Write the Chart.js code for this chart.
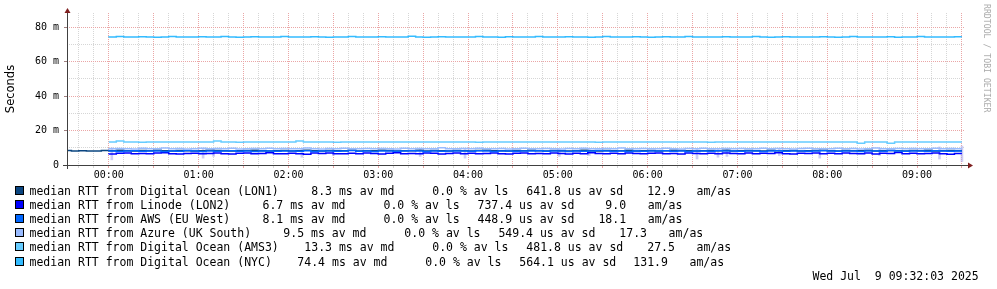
<!DOCTYPE html>
<html>
<head>
<meta charset="utf-8">
<script src="https://cdn.jsdelivr.net/npm/chart.js@4"></script>
<style>
html, body { margin: 0; padding: 0; background: #fff; }
#wrap { position: relative; width: 997px; height: 289px; overflow: hidden; background: #fff; }
#c { position: absolute; left: 0; top: 0; }
.t { position: absolute; font-family: "DejaVu Sans Mono", monospace; font-size: 11.5px; line-height: 14px; white-space: pre; color: #000; }
.box { position: absolute; width: 7px; height: 7px; border: 1px solid #000; }
#vert { position: absolute; left: 992px; top: 4px; font-family: "DejaVu Sans Mono", monospace; font-size: 8.2px; line-height: 10px; color: #aaa; white-space: pre; transform-origin: 0 0; transform: rotate(90deg); }
</style>
</head>
<body>
<div id="wrap">
<canvas id="c" width="997" height="289"></canvas>
<div id="legend"></div>
<div class="t" id="stamp" style="left:812.5px;top:268.5px">Wed Jul  9 09:32:03 2025</div>
<div id="vert">RRDTOOL / TOBI OETIKER</div>
</div>
<script>
// time of each sample (5 min steps)
var times = [
"23:30","23:35","23:40","23:45","23:50","23:55",
"00:00","00:05","00:10","00:15","00:20","00:25","00:30","00:35","00:40","00:45","00:50","00:55",
"01:00","01:05","01:10","01:15","01:20","01:25","01:30","01:35","01:40","01:45","01:50","01:55",
"02:00","02:05","02:10","02:15","02:20","02:25","02:30","02:35","02:40","02:45","02:50","02:55",
"03:00","03:05","03:10","03:15","03:20","03:25","03:30","03:35","03:40","03:45","03:50","03:55",
"04:00","04:05","04:10","04:15","04:20","04:25","04:30","04:35","04:40","04:45","04:50","04:55",
"05:00","05:05","05:10","05:15","05:20","05:25","05:30","05:35","05:40","05:45","05:50","05:55",
"06:00","06:05","06:10","06:15","06:20","06:25","06:30","06:35","06:40","06:45","06:50","06:55",
"07:00","07:05","07:10","07:15","07:20","07:25","07:30","07:35","07:40","07:45","07:50","07:55",
"08:00","08:05","08:10","08:15","08:20","08:25","08:30","08:35","08:40","08:45","08:50","08:55",
"09:00","09:05","09:10","09:15","09:20","09:25","09:30"];

var lon1 = [8.2,8.4,8.2,8.3,8.2,8.2,
8.4,8.3,8.5,8.3,8.2,8.4,8.3,8.6,8.3,8.2,8.4,8.3,
8.2,8.3,8.5,8.4,8.3,8.2,8.3,8.4,8.6,8.3,8.2,8.3,
8.4,8.2,8.3,8.5,8.3,8.2,8.4,8.3,8.3,8.5,8.2,8.3,
8.3,8.6,8.4,8.2,8.3,8.3,8.5,8.2,8.4,8.3,8.2,8.4,
8.3,8.2,8.4,8.5,8.3,8.3,8.2,8.4,8.3,8.6,8.3,8.2,
8.4,8.3,8.2,8.3,8.5,8.3,8.2,8.4,8.3,8.3,8.6,8.2,
8.3,8.4,8.2,8.3,8.5,8.4,8.3,8.2,8.3,8.4,8.3,8.5,
8.2,8.3,8.4,8.3,8.2,8.5,8.3,8.3,8.4,8.2,8.3,8.4,
8.5,8.3,8.2,8.4,8.3,8.3,8.6,8.2,8.3,8.4,8.3,8.2,
8.4,8.3,8.5,8.2,8.3,8.4,8.3];

var lon2 = [null,null,null,null,null,null,
6.3,6.4,6.8,7.0,6.6,6.7,6.5,6.9,7.1,6.6,6.4,6.7,
6.8,6.5,6.7,7.0,6.6,6.4,6.8,6.9,6.5,6.7,7.1,6.6,
6.5,6.8,6.6,6.3,6.9,6.7,7.0,6.6,6.5,6.8,6.6,6.9,
6.7,6.4,6.8,7.1,6.6,6.7,6.5,6.9,6.8,6.4,6.7,7.0,
6.6,6.8,6.5,6.7,7.0,6.6,6.4,6.8,6.9,6.6,6.7,6.5,
6.9,6.7,6.4,6.8,6.6,7.1,6.7,6.5,6.8,6.6,6.9,6.7,
6.5,6.8,7.0,6.6,6.7,6.4,6.9,6.7,6.6,6.8,6.5,7.0,
6.7,6.6,6.9,6.5,6.8,6.7,7.1,6.6,6.4,6.8,6.7,6.9,
6.6,6.8,6.5,7.0,6.7,6.6,6.9,6.4,6.8,6.7,7.2,6.6,
6.8,6.5,6.7,6.9,6.6,6.3,6.7];

var aws = [null,null,null,null,null,null,
8.0,8.2,7.9,8.1,8.3,8.0,8.1,8.2,7.9,8.1,8.0,8.4,
8.1,7.9,8.2,8.0,8.1,8.3,8.0,8.1,7.8,8.2,8.1,8.0,
8.2,8.1,8.0,8.3,7.9,8.1,8.2,8.0,8.1,8.4,8.0,8.1,
7.9,8.1,8.2,8.0,8.1,8.3,8.1,7.9,8.2,8.0,8.1,8.2,
8.1,8.0,8.3,8.1,7.9,8.2,8.1,8.0,8.2,8.1,8.3,8.0,
8.2,8.1,7.9,8.1,8.0,8.2,8.4,8.1,8.0,8.2,7.9,8.1,
8.0,8.2,8.1,8.3,8.0,8.1,7.9,8.2,8.1,8.0,8.3,8.1,
8.1,8.0,8.2,8.1,7.9,8.1,8.3,8.0,8.2,8.1,8.0,8.2,
8.3,8.1,8.0,8.2,8.1,7.9,8.1,8.2,8.0,8.4,8.1,8.0,
8.2,8.1,8.0,8.3,8.1,8.0,8.2];

var azure = [null,null,null,null,null,null,
9.8,9.4,9.6,9.5,9.3,9.7,9.5,9.4,9.9,9.5,9.6,9.3,
9.5,9.7,9.4,9.6,9.5,9.8,9.3,9.5,9.6,9.4,9.7,9.5,
9.6,9.4,9.5,9.9,9.5,9.3,9.6,9.5,9.7,9.4,9.5,9.6,
9.4,9.6,9.5,9.3,9.8,9.5,9.6,9.4,9.5,10.0,9.5,9.4,
9.6,9.5,9.7,9.4,9.5,9.6,9.3,9.5,9.8,9.5,9.4,9.6,
9.5,9.3,9.6,9.5,9.7,9.4,9.5,9.6,9.5,9.9,9.4,9.5,
9.6,9.5,9.4,9.7,9.5,9.3,9.6,9.5,9.8,9.4,9.5,9.6,
9.4,9.6,9.5,9.5,9.8,9.4,9.6,9.5,9.3,9.6,9.7,9.5,
9.5,9.4,9.7,9.5,9.6,9.3,9.5,9.9,9.5,9.4,9.6,9.5,
9.6,9.5,9.4,9.7,9.5,9.6,9.5];

var ams3 = [null,null,null,null,null,null,
13.3,13.3,13.9,13.3,13.3,13.2,13.3,13.3,13.3,13.4,13.3,13.3,
13.3,13.3,13.3,13.9,13.3,13.3,13.2,13.3,13.3,13.3,13.4,13.3,
13.3,13.3,13.9,13.3,13.3,13.3,13.3,13.2,13.3,13.3,13.3,13.3,
13.4,13.3,13.3,13.3,13.3,13.3,13.3,13.4,13.3,13.3,13.3,13.3,
13.3,13.3,13.2,13.3,13.3,13.3,13.4,13.3,13.3,13.3,13.3,13.3,
13.3,13.4,13.3,13.3,13.3,13.3,13.2,13.3,13.3,13.3,13.4,13.3,
13.3,13.3,13.3,13.3,13.4,13.3,13.3,13.3,13.3,13.2,13.3,13.3,
13.3,13.3,13.3,13.4,13.3,13.3,13.3,13.3,13.3,13.3,13.3,13.3,
13.3,13.3,13.3,13.3,13.3,12.7,13.3,13.3,13.3,12.7,13.3,13.3,
13.3,13.3,13.3,13.3,13.3,13.3,13.3];

var nyc = [null,null,null,null,null,null,
74.2,74.4,74.6,74.4,74.3,74.5,74.4,74.2,74.4,74.6,74.4,74.3,
74.4,74.5,74.3,74.4,74.6,74.4,74.2,74.4,74.5,74.4,74.3,74.4,
74.6,74.4,74.4,74.3,74.5,74.4,74.2,74.4,74.4,74.6,74.4,74.3,
74.4,74.5,74.4,74.3,74.4,74.8,74.4,74.2,74.4,74.5,74.4,74.4,
74.3,74.4,74.6,74.4,74.4,74.2,74.5,74.4,74.3,74.4,74.6,74.4,
74.4,74.3,74.5,74.4,74.4,74.2,74.4,74.6,74.4,74.3,74.4,74.5,
74.4,74.2,74.4,74.5,74.4,74.3,74.6,74.4,74.4,74.3,74.4,74.5,
74.4,74.4,74.3,74.6,74.4,74.2,74.4,74.5,74.4,74.4,74.3,74.4,
74.5,74.4,74.2,74.4,74.6,74.4,74.3,74.4,74.4,74.5,74.2,74.4,
74.4,74.6,74.4,74.3,74.4,74.4,74.5];

// smoke spikes (time, low, high)
var smokeTimes = ["00:02","01:03","01:10","02:09","02:30","03:28","03:58","05:01","05:21","06:33","06:47","06:53","07:28","07:55","08:35","09:15","09:30"];
var smokeLow  = [3.0,4.0,5.0,4.5,5.5,5.0,4.0,5.0,5.5,3.5,4.5,5.0,5.5,4.0,5.5,3.5,2.0];
var smokeHigh = [10.0,9.5,9.5,9.5,9.5,9.5,9.5,9.5,9.5,9.5,9.5,9.5,9.5,9.5,9.5,10.5,11.0];

var seriesNames = ["Digital Ocean (LON1)","Linode (LON2)","AWS (EU West)","Azure (UK South)","Digital Ocean (AMS3)","Digital Ocean (NYC)"];
var seriesColors = ["#0a4580","#0000ff","#0066ff","#99bbff","#66ccff","#33bbff"];
var avgMedian = [8.3,6.7,8.1,9.5,13.3,74.4];
var avgLoss = [0.0,0.0,0.0,0.0,0.0,0.0];
var avgSdev = [641.8,737.4,448.9,549.4,481.8,564.1];
var amas = [12.9,9.0,18.1,17.3,27.5,131.9];

var hourLabels = ["00:00","01:00","02:00","03:00","04:00","05:00","06:00","07:00","08:00","09:00"];
var yTickLabels = ["0","","20 m","","40 m","","60 m","","80 m"];

var startMin = -27.95; // 23:32:03
var endMin = 572.05;   // 09:32:03

function toMin(s) {
	var p = s.split(":");
	var m = parseInt(p[0], 10) * 60 + parseInt(p[1], 10);
	if (m > 12 * 60) m -= 24 * 60;
	return m;
}

var allSeries = [lon1, lon2, aws, azure, ams3, nyc];
var datasets = [];
for (var i = 0; i < allSeries.length; i++) {
	var pts = [];
	for (var j = 0; j < times.length; j++) {
		pts.push({x: toMin(times[j]), y: allSeries[i][j]});
	}
	datasets.push({
		type: 'line',
		label: "median RTT from " + seriesNames[i],
		data: pts,
		borderColor: seriesColors[i],
		backgroundColor: seriesColors[i],
		borderWidth: 1.5,
		pointRadius: 0,
		stepped: 'after',
		fill: false,
		spanGaps: false,
		order: 6 - i
	});
}
var smokePts = [];
for (var k = 0; k < smokeTimes.length; k++) {
	smokePts.push({x: toMin(smokeTimes[k]), y: [smokeLow[k], smokeHigh[k]]});
}
datasets.push({
	type: 'bar',
	label: 'smoke',
	data: smokePts,
	backgroundColor: 'rgba(165,165,235,0.55)',
	borderWidth: 0,
	barThickness: 2,
	order: 20
});

var gridMinutes = [];
for (var g = -20; g <= 570; g += 10) gridMinutes.push(g);

var MAJOR = '#eaa6a6';
var MINOR = '#d6d6d6';

var axesPlugin = {
	id: 'rrdAxes',
	afterDatasetsDraw: function(chart) {
		var ctx = chart.ctx, a = chart.chartArea;
		ctx.save();
		ctx.strokeStyle = '#404040';
		ctx.lineWidth = 1;
		ctx.beginPath();
		ctx.moveTo(a.left - 4, a.bottom + 0.5);
		ctx.lineTo(a.right + 4, a.bottom + 0.5);
		ctx.moveTo(a.left + 0.5, a.bottom + 4);
		ctx.lineTo(a.left + 0.5, a.top);
		ctx.stroke();
		ctx.fillStyle = '#7f1f1f';
		ctx.beginPath();
		ctx.moveTo(a.right + 3, a.bottom + 0.5 - 3);
		ctx.lineTo(a.right + 8, a.bottom + 0.5);
		ctx.lineTo(a.right + 3, a.bottom + 0.5 + 3);
		ctx.closePath();
		ctx.fill();
		ctx.beginPath();
		ctx.moveTo(a.left + 0.5 - 3, a.top);
		ctx.lineTo(a.left + 0.5, a.top - 5);
		ctx.lineTo(a.left + 0.5 + 3, a.top);
		ctx.closePath();
		ctx.fill();
		ctx.restore();
	}
};

Chart.defaults.font.family = "'DejaVu Sans Mono', monospace";
Chart.defaults.color = '#000';

var chart = new Chart(document.getElementById('c'), {
	type: 'line',
	data: { datasets: datasets },
	plugins: [axesPlugin],
	options: {
		responsive: false,
		animation: false,
		devicePixelRatio: 1,
		layout: { padding: { left: 0, top: 13, right: 32, bottom: 0 } },
		plugins: { legend: { display: false }, tooltip: { enabled: false } },
		scales: {
			x: {
				type: 'linear',
				min: startMin,
				max: endMin,
				offset: false,
				afterFit: function(s) { s.height = 124; },
				afterBuildTicks: function(s) { s.ticks = gridMinutes.map(function(v) { return {value: v}; }); },
				ticks: {
					autoSkip: false,
					maxRotation: 0,
					padding: 1,
					font: { size: 10 },
					color: '#000',
					callback: function(v) {
						if (v >= 0 && v % 60 === 0) return hourLabels[v / 60] || '';
						return '';
					}
				},
				grid: {
					offset: false,
					lineWidth: 1,
					tickLength: 3,
					color: function(c) { return c.tick && c.tick.value % 30 === 0 ? MAJOR : MINOR; },
					tickColor: function(c) { return c.tick && c.tick.value % 30 === 0 ? MAJOR : MINOR; }
				},
				border: { display: false, dash: [1, 1] }
			},
			y: {
				min: 0,
				max: 88.3,
				afterFit: function(s) { s.width = 67; },
				afterBuildTicks: function(s) {
					var t = [];
					for (var v = 0; v <= 80; v += 10) t.push({value: v});
					s.ticks = t;
				},
				ticks: {
					padding: 5,
					font: { size: 10 },
					color: '#000',
					callback: function(v) { return yTickLabels[v / 10]; }
				},
				grid: {
					lineWidth: 1,
					tickLength: 3,
					color: function(c) { return c.tick && c.tick.value === 0 ? 'rgba(0,0,0,0)' : (c.tick && c.tick.value % 20 === 0 ? MAJOR : MINOR); },
					tickColor: function(c) { return c.tick && c.tick.value % 20 === 0 ? '#a08080' : 'rgba(0,0,0,0)'; }
				},
				border: { display: false, dash: [1, 1] },
				title: {
					display: true,
					text: 'Seconds',
					color: '#000',
					font: { family: "'DejaVu Sans', sans-serif", size: 11.5 },
					padding: { top: 4, bottom: 0 }
				}
			}
		}
	}
});

// legend rows, rrdtool style
var cw = 6.97;
var legend = document.getElementById('legend');
function pad5(v) {
	var s = v.toFixed(1);
	while (s.length < 5) s = " " + s;
	return s;
}
for (var r = 0; r < seriesNames.length; r++) {
	var rowTop = 183.5 + r * 14.2;
	var shift = (seriesNames[r].length - 20) * cw;
	var box = document.createElement('div');
	box.className = 'box';
	box.style.left = '15px';
	box.style.top = (rowTop + 2) + 'px';
	box.style.background = seriesColors[r];
	legend.appendChild(box);
	var parts = [
		[29.5, "median RTT from " + seriesNames[r]],
		[297.4 + shift, pad5(avgMedian[r]) + " ms av md"],
		[418.4 + shift, pad5(avgLoss[r]) + " % av ls"],
		[526.3 + shift, pad5(avgSdev[r]) + " us av sd"],
		[640.3 + shift, pad5(amas[r])],
		[696.5 + shift, "am/as"]
	];
	for (var p = 0; p < parts.length; p++) {
		var el = document.createElement('div');
		el.className = 't';
		el.style.left = parts[p][0] + 'px';
		el.style.top = rowTop + 'px';
		el.textContent = parts[p][1];
		legend.appendChild(el);
	}
}
</script>
</body>
</html>
